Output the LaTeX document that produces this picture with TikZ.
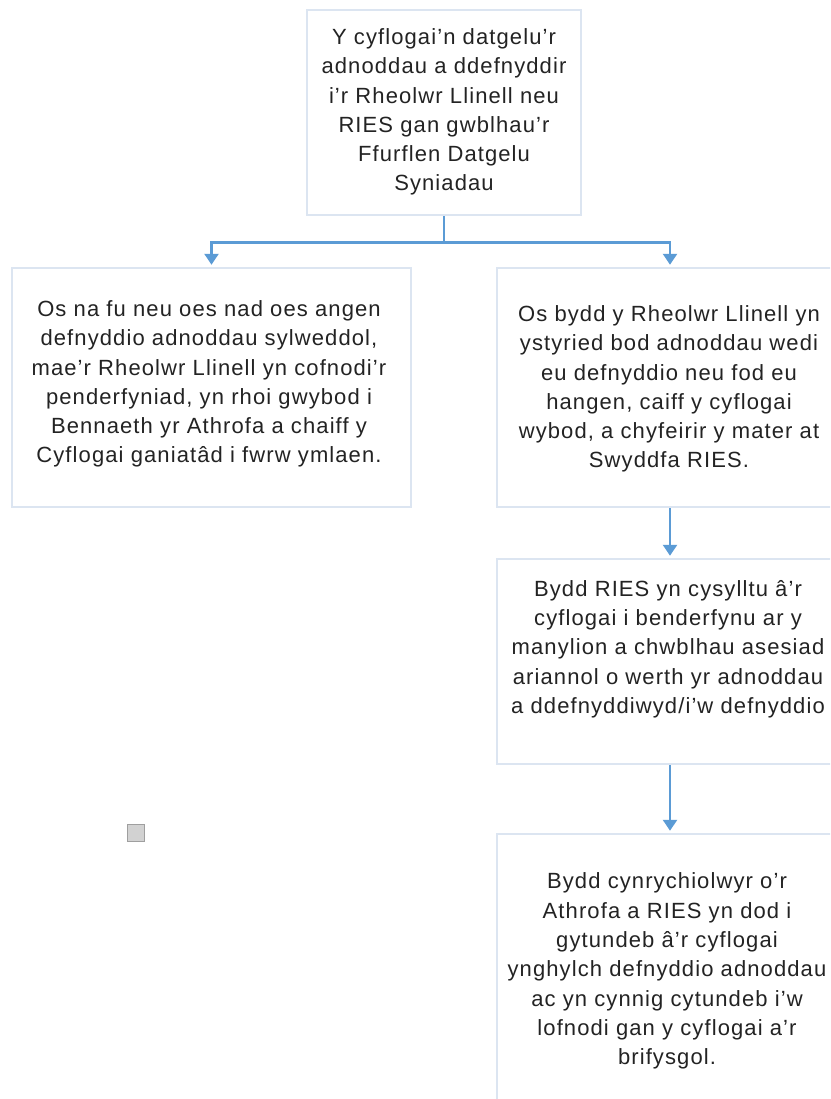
\documentclass[tikz,border=0pt]{standalone}
\usepackage{fontspec}
\setmainfont[LetterSpace=5]{Liberation Sans}
\usetikzlibrary{arrows.meta}
\definecolor{boxline}{RGB}{220,229,241}
\definecolor{arrowc}{RGB}{91,155,213}
\definecolor{txtc}{RGB}{35,35,35}
\begin{document}
\begin{tikzpicture}[x=1pt,y=-1pt,
  box/.style={draw=boxline, line width=2.5pt, fill=white, inner sep=0pt},
  txt/.style={align=center, text=txtc, font=\fontsize{22}{29.3}\selectfont, inner sep=0pt},
  conn/.style={draw=arrowc, line width=2.5pt},
  arr/.style={conn, -{Triangle[width=14pt,length=11pt]}, shorten >=2pt}]
\useasboundingbox (0,0) rectangle (830,1099);
\clip (0,0) rectangle (830,1099);
\fill[white] (0,0) rectangle (830,1099);
% boxes
\node[box, minimum width=274pt, minimum height=205pt] (top) at (444,112.5) {};
\node[box, minimum width=399pt, minimum height=239pt] (left) at (211.5,387.5) {};
\node[box, minimum width=346pt, minimum height=239pt] (r1) at (670,387.5) {};
\node[box, minimum width=346pt, minimum height=205pt] (r2) at (670,661.5) {};
\node[box, minimum width=346pt, minimum height=276pt] (r3) at (670,972) {};
% texts
\node[txt] (ttop) at (444,112) {Y cyflogai’n datgelu’r\\adnoddau a ddefnyddir\\i’r Rheolwr Llinell neu\\RIES gan gwblhau’r\\Ffurflen Datgelu\\Syniadau};
\node[txt] (tleft) at (209,384) {Os na fu neu oes nad oes angen\\defnyddio adnoddau sylweddol,\\mae’r Rheolwr Llinell yn cofnodi’r\\penderfyniad, yn rhoi gwybod i\\Bennaeth yr Athrofa a chaiff y\\Cyflogai ganiatâd i fwrw ymlaen.};
\node[txt] (tr1) at (669,389) {Os bydd y Rheolwr Llinell yn\\ystyried bod adnoddau wedi\\eu defnyddio neu fod eu\\hangen, caiff y cyflogai\\wybod, a chyfeirir y mater at\\Swyddfa RIES.};
\node[txt] (tr2) at (668,649) {Bydd RIES yn cysylltu â’r\\cyflogai i benderfynu ar y\\manylion a chwblhau asesiad\\ariannol o werth yr adnoddau\\a ddefnyddiwyd/i’w defnyddio};
\node[txt] (tr3) at (667,971) {Bydd cynrychiolwyr o’r\\Athrofa a RIES yn dod i\\gytundeb â’r cyflogai\\ynghylch defnyddio adnoddau\\ac yn cynnig cytundeb i’w\\lofnodi gan y cyflogai a’r\\brifysgol.};
% connectors
\draw[conn] (top.south) -- ++(0,26) coordinate (j);
\draw[arr] (j) -| (left.north);
\draw[arr] (j) -| (r1.north);
\draw[arr] (r1.south) -- (r2.north);
\draw[arr] (r2.south) -- (r3.north);
% small square
\node[draw=gray!75, fill=gray!35, line width=1.5pt, minimum size=17pt, inner sep=0pt] (sq) at (136,833) {};
\end{tikzpicture}
\end{document}
